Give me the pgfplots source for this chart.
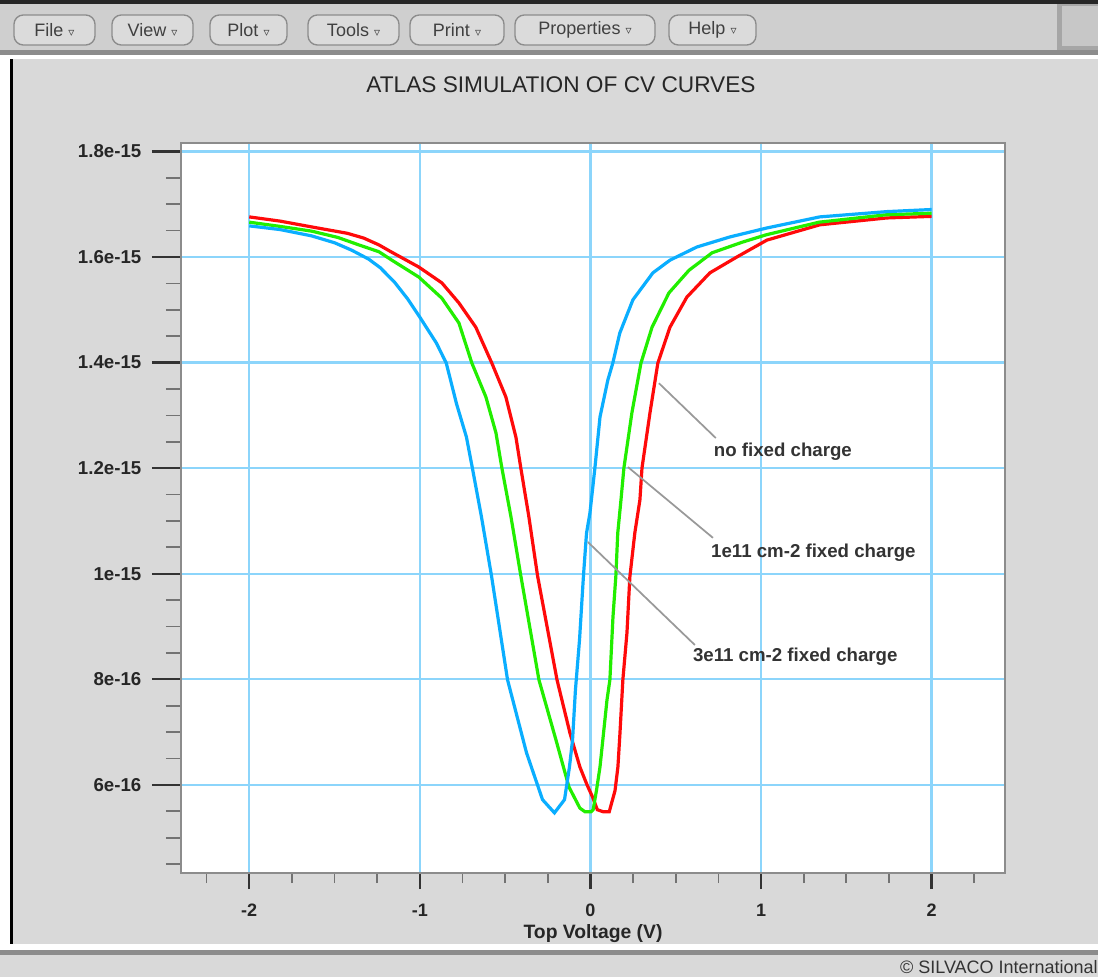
\documentclass[border=0pt]{standalone}
\usepackage{pgfplots}
\usepackage{pgfplotstable}
\pgfplotsset{compat=1.18}
\usepackage{fontspec}
\setmainfont{Liberation Sans}
\newfontfamily\dejavu{DejaVu Sans}
\definecolor{panel}{HTML}{D9D9D9}
\definecolor{menubar}{HTML}{CFCFCF}
\definecolor{gridblue}{HTML}{8CD5FB}
\definecolor{cvred}{HTML}{FF0A0A}
\definecolor{cvgreen}{HTML}{22EE00}
\definecolor{cvblue}{HTML}{0AAEFF}
\definecolor{leader}{HTML}{999999}
\definecolor{framegray}{HTML}{8C8C8C}

\pgfplotstableread{
x y
-2.000 1.676
-1.819 1.668
-1.634 1.657
-1.426 1.645
-1.330 1.636
-1.240 1.623
-1.164 1.609
-1.006 1.581
-0.871 1.551
-0.771 1.513
-0.672 1.467
-0.578 1.399
-0.496 1.335
-0.437 1.259
-0.408 1.200
-0.361 1.108
-0.310 0.996
-0.196 0.799
-0.120 0.698
-0.062 0.634
-0.020 0.600
0.015 0.575
0.040 0.553
0.075 0.549
0.110 0.549
0.144 0.589
0.161 0.634
0.173 0.698
0.190 0.799
0.214 0.888
0.231 0.994
0.260 1.077
0.290 1.140
0.302 1.200
0.349 1.305
0.395 1.399
0.466 1.467
0.565 1.524
0.700 1.570
0.858 1.600
1.034 1.632
1.344 1.661
1.737 1.674
2.000 1.677
}\redtable

\pgfplotstableread{
x y
-2.000 1.666
-1.819 1.658
-1.634 1.649
-1.480 1.637
-1.358 1.623
-1.240 1.610
-1.164 1.594
-1.006 1.562
-0.871 1.522
-0.771 1.475
-0.695 1.399
-0.613 1.335
-0.554 1.267
-0.519 1.200
-0.466 1.108
-0.408 0.996
-0.302 0.799
-0.202 0.685
-0.126 0.596
-0.062 0.556
-0.032 0.549
0.003 0.549
0.016 0.553
0.036 0.591
0.056 0.634
0.097 0.761
0.114 0.799
0.132 0.918
0.149 0.996
0.160 1.077
0.179 1.140
0.196 1.200
0.243 1.305
0.296 1.399
0.361 1.467
0.460 1.532
0.578 1.575
0.713 1.608
0.889 1.628
1.029 1.642
1.340 1.666
1.733 1.680
2.000 1.683
}\greentable

\pgfplotstableread{
x y
-2.000 1.659
-1.819 1.652
-1.634 1.640
-1.500 1.627
-1.400 1.613
-1.300 1.596
-1.233 1.580
-1.150 1.553
-1.070 1.520
-1.000 1.486
-0.903 1.437
-0.845 1.399
-0.786 1.323
-0.727 1.259
-0.692 1.200
-0.639 1.108
-0.580 0.996
-0.486 0.799
-0.375 0.661
-0.281 0.572
-0.211 0.547
-0.152 0.572
-0.123 0.634
-0.105 0.685
-0.088 0.780
-0.064 0.875
-0.041 0.996
-0.023 1.077
-0.003 1.115
0.026 1.200
0.056 1.297
0.102 1.367
0.131 1.399
0.172 1.456
0.249 1.519
0.366 1.570
0.466 1.594
0.624 1.619
0.817 1.638
1.034 1.655
1.344 1.676
1.737 1.686
2.000 1.690
}\bluetable

\begin{document}
\begin{tikzpicture}
\begin{scope}[x=0.75pt,y=-0.75pt]
\useasboundingbox (0,0) rectangle (1098,977);
\fill[panel] (0,0) rectangle (1098,977);
% menu bar
\fill[menubar] (0,0) rectangle (1098,52);
\fill[black!85] (0,0) rectangle (1098,4);
\fill[black!45] (0,50) rectangle (1098,55);
\fill[white] (0,55) rectangle (1098,59);
% left margin and black line
\fill[white] (0,59) rectangle (10,944);
\fill[black] (10,59) rectangle (13,944);
% right top box
\fill[black!35] (1057,4) rectangle (1098,50);
\fill[black!22] (1062,6) rectangle (1098,46);
% bottom status line
\fill[white] (0,944) rectangle (1098,950);
\fill[black!45] (0,950) rectangle (1098,955);
% menu buttons
\foreach \a/\b/\lbl in {14/95/File, 112/193/View, 210/287/Plot, 308/399/Tools, 410/504/Print, 515/655/Properties, 669/756/Help} {
  \draw[fill=black!14, draw=black!45, line width=1pt, rounded corners=7pt] (\a,15) rectangle (\b,45);
  \node[text=black!75, font=\fontsize{13.5}{15}\selectfont, inner sep=0pt] at ({(\a+\b)/2},30) {\lbl\ {\dejavu\fontsize{9}{10}\selectfont ▿}};
}
% title
\node[font=\fontsize{17}{19}\selectfont, text=black!85] at (561,85) {ATLAS SIMULATION OF CV CURVES};
% footer
\node[anchor=east, font=\fontsize{13.5}{16}\selectfont, text=black!80, inner sep=0pt] at (1098,967) {© SILVACO International};
\end{scope}

\begin{axis}[
  at={(135.75pt,-654.75pt)}, anchor=south west,
  scale only axis, width=618pt, height=547.5pt,
  xmin=-2.4, xmax=2.43, ymin=0.433, ymax=1.816,
  axis background/.style={fill=white},
  axis line style={framegray, line width=1.6pt},
  tick align=outside,
  xtick pos=bottom, ytick pos=left,
  xtick={-2,-1,0,1,2}, xticklabels={-2,-1,0,1,2},
  ytick={0.6,0.8,1,1.2,1.4,1.6,1.8},
  yticklabels={6e-16,8e-16,1e-15,1.2e-15,1.4e-15,1.6e-15,1.8e-15},
  minor xtick={-2.25,-1.75,-1.5,-1.25,-0.75,-0.5,-0.25,0.25,0.5,0.75,1.25,1.5,1.75,2.25},
  minor ytick={0.45,0.5,0.55,0.65,0.7,0.75,0.85,0.9,0.95,1.05,1.1,1.15,1.25,1.3,1.35,1.45,1.5,1.55,1.65,1.7,1.75},
  grid=major,
  major grid style={gridblue, line width=1.8pt},
  major tick length=21.75pt, minor tick length=11.25pt,
  xtick style={/pgfplots/major tick length=12pt},
  minor x tick style={/pgfplots/minor tick length=7.5pt},
  major tick style={black!80, line width=1.8pt},
  minor tick style={black!55, line width=1.3pt},
  ticklabel style={font=\bfseries\fontsize{14}{16}\selectfont, text=black!85},
  yticklabel style={xshift=-4.5pt},
  xticklabel style={yshift=2pt, font=\bfseries\fontsize{13.5}{15}\selectfont},
  xlabel={Top Voltage (V)},
  xlabel style={font=\bfseries\fontsize{14.5}{16}\selectfont, text=black!85, at={(axis description cs:0.5,-0.0825)}, anchor=center},
  clip=true,
]
\addplot[cvred, line width=2.4pt] table[x=x,y=y] {\redtable};
\addplot[cvgreen, line width=2.4pt] table[x=x,y=y] {\greentable};
\addplot[cvblue, line width=2.4pt] table[x=x,y=y] {\bluetable};
\draw[leader, line width=1.3pt] (axis cs:0.401,1.361) -- (axis cs:0.735,1.257);
\draw[leader, line width=1.3pt] (axis cs:0.220,1.202) -- (axis cs:0.718,1.068);
\draw[leader, line width=1.3pt] (axis cs:-0.015,1.060) -- (axis cs:0.612,0.865);
\node[anchor=west, inner sep=0pt, font=\bfseries\fontsize{14}{16}\selectfont, text=black!80] at (axis cs:0.722,1.231) {no fixed charge};
\node[anchor=west, inner sep=0pt, font=\bfseries\fontsize{14}{16}\selectfont, text=black!80] at (axis cs:0.706,1.039) {1e11 cm-2 fixed charge};
\node[anchor=west, inner sep=0pt, font=\bfseries\fontsize{14}{16}\selectfont, text=black!80] at (axis cs:0.600,0.842) {3e11 cm-2 fixed charge};
\end{axis}
\end{tikzpicture}
\end{document}
